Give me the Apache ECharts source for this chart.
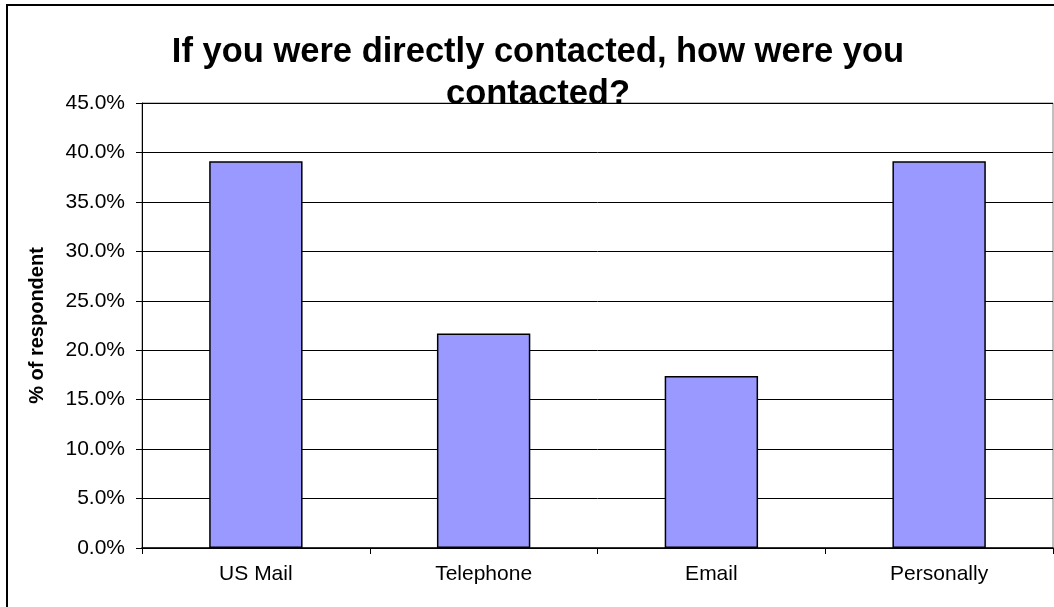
<!DOCTYPE html>
<html>
<head>
<meta charset="utf-8">
<script src="https://cdn.jsdelivr.net/npm/echarts@6/dist/echarts.min.js"></script>
<style>
  html, body { margin: 0; padding: 0; background: #fff; }
  #chart { width: 1054px; height: 607px; }
</style>
</head>
<body>
<div id="chart"></div>
<script>
// Contact channels and share of respondents (%)
const categories = ['US Mail', 'Telephone', 'Email', 'Personally'];
const shares = [39.1, 21.7, 17.4, 39.1];
const titleLines = ['If you were directly contacted, how were you', 'contacted?'];
const axisMax = 45;
const axisStep = 5;

const chart = echarts.init(document.getElementById('chart'), null, { renderer: 'canvas' });
const font = '"Liberation Sans", Arial, sans-serif';

chart.setOption({
  animation: false,
  backgroundColor: '#ffffff',
  graphic: [{
    type: 'rect',
    shape: { x: 7, y: 5, width: 1100, height: 700 },
    style: { fill: 'none', stroke: '#000', lineWidth: 2 },
    z: -1
  }],
  title: {
    text: titleLines.join('\n'),
    left: 533,
    top: 26,
    textAlign: 'center',
    textStyle: {
      fontFamily: font, fontWeight: 'bold', fontSize: 34.5, lineHeight: 42, color: '#000'
    }
  },
  grid: {
    left: 142, right: 1, top: 103, bottom: 59,
    show: true, borderColor: '#808080', borderWidth: 1, backgroundColor: '#fff'
  },
  xAxis: {
    type: 'category',
    data: categories,
    boundaryGap: true,
    axisLine: { lineStyle: { color: '#000', width: 1.5 } },
    axisTick: { show: true, alignWithLabel: false, length: 6, lineStyle: { color: '#000' } },
    axisLabel: { fontFamily: font, fontSize: 21, color: '#000', margin: 16 }
  },
  yAxis: {
    type: 'value',
    min: 0, max: axisMax, interval: axisStep,
    name: '% of respondent',
    nameLocation: 'middle',
    nameRotate: 90,
    nameGap: 95,
    nameTextStyle: { fontFamily: font, fontWeight: 'bold', fontSize: 20, color: '#000' },
    axisLine: { show: true, lineStyle: { color: '#000', width: 1 } },
    axisTick: { show: true, inside: false, length: 6, lineStyle: { color: '#000' } },
    axisLabel: {
      fontFamily: font, fontSize: 21, color: '#000', margin: 17,
      formatter: v => v.toFixed(1) + '%'
    },
    splitLine: { show: true, lineStyle: { color: '#000', width: 1 } }
  },
  series: [{
    type: 'bar',
    data: shares,
    barWidth: '41%',
    itemStyle: { color: '#9999FF', borderColor: '#000', borderWidth: 1.5 }
  }]
});
</script>
</body>
</html>
